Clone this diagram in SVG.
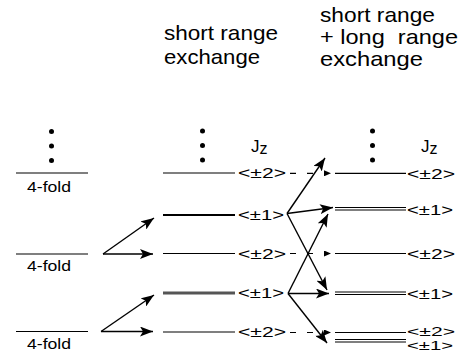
<svg xmlns="http://www.w3.org/2000/svg" width="466" height="362" viewBox="0 0 466 362">
<defs>
<style>
text{font-family:"Liberation Sans",Arial,sans-serif;fill:#000}
.h{font-size:21px}
.lab{font-size:14px}
.sm{font-size:12px}
.jz{font-size:17px}
.lv{stroke:#000;stroke-width:1.2;fill:none}
.thick{stroke:#000;stroke-width:2;fill:none}
.grey{stroke:#555;stroke-width:3;fill:none}
.ar{stroke:#000;stroke-width:1.4;fill:none;marker-end:url(#ah)}
.da{stroke:#000;stroke-width:1.2;fill:none;stroke-dasharray:6 11;marker-end:url(#sh)}
</style>
<marker id="ah" markerUnits="userSpaceOnUse" markerWidth="14" markerHeight="10" refX="13" refY="5" orient="auto"><path d="M0,0 L13,5 L0,10 L3,5 Z" fill="#000"/></marker>
<marker id="sh" markerUnits="userSpaceOnUse" markerWidth="8" markerHeight="6" refX="0" refY="3" orient="auto"><path d="M0,0 L7,3 L0,6 Z" fill="#000"/></marker>
</defs>
<g id="headings">
<text class="h" x="164" y="40" textLength="114" lengthAdjust="spacingAndGlyphs">short range</text>
<text class="h" x="164" y="64" textLength="96" lengthAdjust="spacingAndGlyphs">exchange</text>
<text class="h" x="320" y="22" textLength="115" lengthAdjust="spacingAndGlyphs">short range</text>
<text class="h" x="320" y="44" textLength="138" lengthAdjust="spacingAndGlyphs" xml:space="preserve">+ long  range</text>
<text class="h" x="320" y="66" textLength="103" lengthAdjust="spacingAndGlyphs">exchange</text>
</g>
<g id="col1">
<circle cx="51.5" cy="131.5" r="2.5"/><circle cx="51.5" cy="146" r="2.5"/><circle cx="51.5" cy="160.5" r="2.5"/>
<line class="lv" x1="16" y1="173" x2="88" y2="173"/>
<text class="lab" x="27" y="191.5" textLength="44" lengthAdjust="spacingAndGlyphs">4-fold</text>
<line class="lv" x1="16" y1="254" x2="88" y2="254"/>
<text class="lab" x="27" y="271" textLength="44" lengthAdjust="spacingAndGlyphs">4-fold</text>
<line class="lv" x1="16" y1="331.5" x2="88" y2="331.5"/>
<text class="lab" x="27" y="349" textLength="44" lengthAdjust="spacingAndGlyphs">4-fold</text>
</g>
<g id="col2">
<circle cx="202.5" cy="131" r="2.5"/><circle cx="202.5" cy="145.5" r="2.5"/><circle cx="202.5" cy="160" r="2.5"/>
<text class="jz" x="251" y="152">J<tspan font-size="16" dy="1.5">z</tspan></text>
<line class="lv" x1="163" y1="173" x2="235" y2="173"/>
<text class="lab" x="238" y="178" textLength="48" lengthAdjust="spacingAndGlyphs">&lt;±2&gt;</text>
<line class="thick" x1="163" y1="215" x2="235" y2="215"/>
<text class="lab" x="238" y="220" textLength="46" lengthAdjust="spacingAndGlyphs">&lt;±1&gt;</text>
<line class="lv" x1="163" y1="253.5" x2="235" y2="253.5"/>
<text class="lab" x="238" y="258.5" textLength="48" lengthAdjust="spacingAndGlyphs">&lt;±2&gt;</text>
<line class="grey" x1="163" y1="293" x2="235" y2="293"/>
<text class="lab" x="238" y="298" textLength="46" lengthAdjust="spacingAndGlyphs">&lt;±1&gt;</text>
<line class="lv" x1="163" y1="332" x2="235" y2="332"/>
<text class="lab" x="238" y="337" textLength="48" lengthAdjust="spacingAndGlyphs">&lt;±2&gt;</text>
</g>
<g id="col3">
<circle cx="372.5" cy="131" r="2.5"/><circle cx="372.5" cy="145.5" r="2.5"/><circle cx="372.5" cy="160" r="2.5"/>
<text class="jz" x="421" y="152">J<tspan font-size="16" dy="1.5">z</tspan></text>
<line class="lv" x1="335" y1="173.3" x2="406" y2="173.3"/>
<text class="lab" x="407" y="178.5" textLength="48" lengthAdjust="spacingAndGlyphs">&lt;±2&gt;</text>
<line class="lv" x1="335" y1="207.5" x2="406" y2="207.5"/>
<line class="lv" x1="335" y1="210" x2="406" y2="210"/>
<text class="lab" x="407" y="214.5" textLength="46" lengthAdjust="spacingAndGlyphs">&lt;±1&gt;</text>
<line class="lv" x1="335" y1="253.5" x2="406" y2="253.5"/>
<text class="lab" x="407" y="258.5" textLength="48" lengthAdjust="spacingAndGlyphs">&lt;±2&gt;</text>
<line class="lv" x1="335" y1="292" x2="406" y2="292"/>
<line class="lv" x1="335" y1="294.5" x2="406" y2="294.5"/>
<text class="lab" x="407" y="298.5" textLength="46" lengthAdjust="spacingAndGlyphs">&lt;±1&gt;</text>
<line class="lv" x1="335" y1="332.5" x2="406" y2="332.5"/>
<text class="sm" x="407" y="336" textLength="48" lengthAdjust="spacingAndGlyphs">&lt;±2&gt;</text>
<line class="lv" x1="335" y1="339.5" x2="406" y2="339.5"/>
<line class="lv" x1="335" y1="342" x2="406" y2="342"/>
<text class="sm" x="407" y="349.5" textLength="46" lengthAdjust="spacingAndGlyphs">&lt;±1&gt;</text>
</g>
<g id="connectors">
<line class="ar" x1="103" y1="254" x2="154" y2="218"/>
<line class="ar" x1="103" y1="254" x2="153" y2="254"/>
<line class="ar" x1="101" y1="331.5" x2="154" y2="295"/>
<line class="ar" x1="101" y1="331.5" x2="153" y2="331.5"/>
<line class="da" x1="290" y1="173.3" x2="324" y2="173.3"/>
<line class="da" x1="290" y1="253.5" x2="324" y2="253.5"/>
<line class="da" x1="290" y1="332.5" x2="324" y2="332.5"/>
<line class="ar" x1="287" y1="213.5" x2="325" y2="158"/>
<line class="ar" x1="287" y1="213.5" x2="333" y2="207.5"/>
<line class="ar" x1="287" y1="213.5" x2="327" y2="290"/>
<line class="ar" x1="288" y1="293.5" x2="328" y2="214"/>
<line class="ar" x1="288" y1="293.5" x2="329" y2="293.5"/>
<line class="ar" x1="288" y1="293.5" x2="327" y2="343"/>
</g>
</svg>
